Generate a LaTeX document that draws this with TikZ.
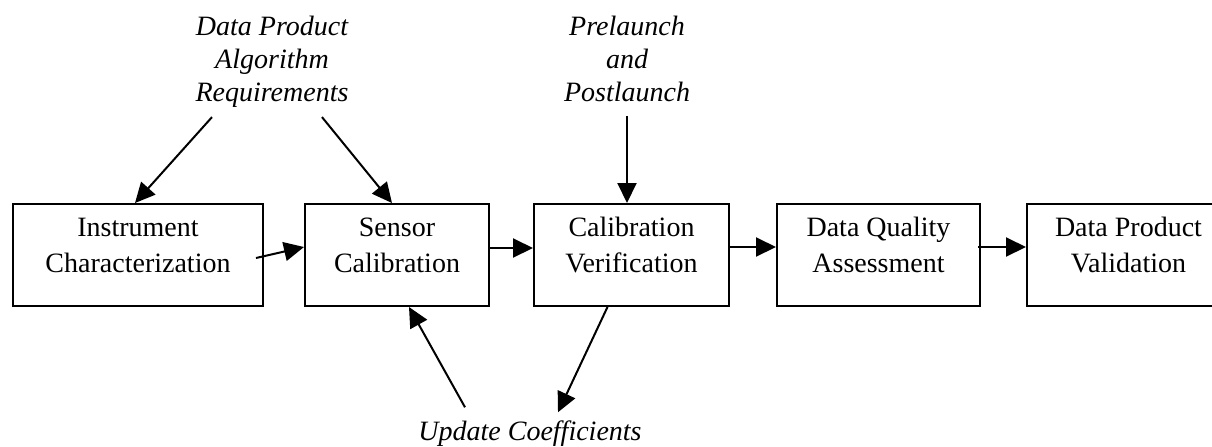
\documentclass[tikz,border=0pt]{standalone}
\usepackage{fontspec}
\setmainfont{Liberation Serif}
\usepackage{tikz}
\usetikzlibrary{arrows.meta, positioning}
\tikzset{
    box/.style={rectangle, draw=black, line width=1pt, minimum height=51pt, inner sep=0pt, align=center, font=\fontsize{14}{18}\selectfont,
        execute at begin node={\rule{0pt}{10pt}}, execute at end node={\rule[-10pt]{0pt}{10pt}}},
    note/.style={inner sep=0pt, align=center, font=\fontsize{14}{16.5}\selectfont\itshape},
    arrow/.style={-{Triangle[length=10pt, width=9.5pt]}, line width=1pt}
}

\begin{document}
\begin{tikzpicture}[x=0.5pt, y=-0.5pt, node distance=20pt]
    \useasboundingbox (0,0) rectangle (1212,446);
    % Process chain
    \node [box, minimum width=125pt] (instr) at (138,255) {Instrument\\Characterization};
    \node [box, minimum width=92pt, right=20pt of instr] (sensor) {Sensor\\Calibration};
    \node [box, minimum width=97.5pt, right=21.5pt of sensor] (verif) {Calibration\\Verification};
    \node [box, minimum width=101.5pt, right=23pt of verif] (quality) {Data Quality\\Assessment};
    \node [box, minimum width=101.5pt, right=22.5pt of quality] (valid) {Data Product\\Validation};

    % Inputs
    \node [note] (req) at (272,62) {Data Product\\Algorithm\\Requirements};
    \node [note] (launch) at (627,58.5) {Prelaunch\\and\\Postlaunch};
    \node [note] (coef) at (530,433.5) {Update Coefficients};

    % Arrows
    \draw [arrow] ([xshift=-4pt,yshift=-1.5pt]instr.east) -- ([yshift=4pt]sensor.west);
    \draw [arrow] ([xshift=-1pt,yshift=3.5pt]sensor.east) -- ([yshift=3.5pt]verif.west);
    \draw [arrow] ([yshift=4pt]verif.east) -- ([yshift=4pt]quality.west);
    \draw [arrow] ([xshift=-1.5pt,yshift=4pt]quality.east) -- ([yshift=4pt]valid.west);
    \draw [arrow] ([xshift=-30pt,yshift=-4.5pt]req.south) -- ([xshift=-1.5pt]instr.north);
    \draw [arrow] ([xshift=25pt,yshift=-4.5pt]req.south) -- ([xshift=-2.5pt]sensor.north);
    \draw [arrow] ([yshift=-7pt]launch.south) -- (launch.south |- verif.north);
    \draw [arrow] ([xshift=-32.5pt,yshift=6.5pt]coef.north) -- ([xshift=6pt]sensor.south);
    \draw [arrow] ([xshift=-12pt]verif.south) -- ([xshift=14pt,yshift=4pt]coef.north);
\end{tikzpicture}
\end{document}
